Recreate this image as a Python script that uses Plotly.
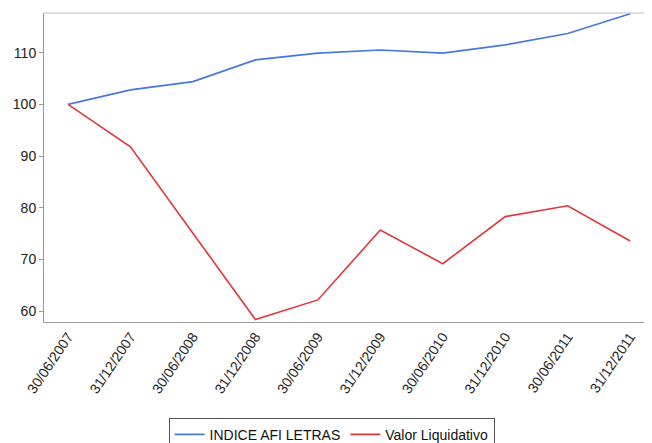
import plotly.graph_objects as go

dates = ['30/06/2007', '31/12/2007', '30/06/2008', '31/12/2008', '30/06/2009',
         '31/12/2009', '30/06/2010', '31/12/2010', '30/06/2011', '31/12/2011']
indice_afi = [100, 102.8, 104.4, 108.6, 109.9, 110.5, 109.9, 111.5, 113.7, 117.5]
valor_liquidativo = [100, 91.8, 75.1, 58.4, 62.2, 75.7, 69.2, 78.3, 80.4, 73.6]

font_family = 'Liberation Sans, Arial, sans-serif'

fig = go.Figure()

fig.add_trace(go.Scatter(
    x=dates,
    y=indice_afi,
    mode='lines',
    name='INDICE AFI LETRAS',
    line=dict(color='#4678E0', width=1.6)
))

fig.add_trace(go.Scatter(
    x=dates,
    y=valor_liquidativo,
    mode='lines',
    name='Valor Liquidativo',
    line=dict(color='#E0363C', width=1.6)
))

# page body adds an 8px offset; figure is taller than the window so the
# legend fits inside it (no margin push)
fig.update_layout(
    width=644,
    height=455,
    margin=dict(l=36, r=0, t=5, b=141),
    paper_bgcolor='#FFFFFF',
    plot_bgcolor='#FFFFFF',
    font=dict(family=font_family, size=14, color='#222222'),
    showlegend=True,
    legend=dict(
        orientation='h',
        x=0.473,
        xanchor='center',
        y=-0.31,
        yanchor='top',
        bordercolor='#555555',
        borderwidth=1,
        font=dict(size=14, color='#111111'),
        itemwidth=30,
        tracegroupgap=0
    ),
    xaxis=dict(
        type='category',
        range=[-0.384, 9.35],
        automargin=False,
        showgrid=False,
        showline=True,
        linecolor='#999999',
        linewidth=1,
        mirror=False,
        ticks='',
        tickangle=-56,
        tickfont=dict(size=14, color='#222222')
    ),
    yaxis=dict(
        range=[57.93, 117.66],
        tickvals=[60, 70, 80, 90, 100, 110],
        automargin=False,
        showgrid=False,
        zeroline=False,
        showline=True,
        linecolor='#999999',
        linewidth=1,
        ticks='outside',
        ticklen=4,
        tickcolor='#999999',
        tickfont=dict(size=14, color='#222222')
    ),
    shapes=[dict(
        type='line', xref='paper', yref='paper',
        x0=0, x1=1, y0=1, y1=1,
        line=dict(color='#BBBBBB', width=1)
    )]
)

fig.write_html("out.html")
